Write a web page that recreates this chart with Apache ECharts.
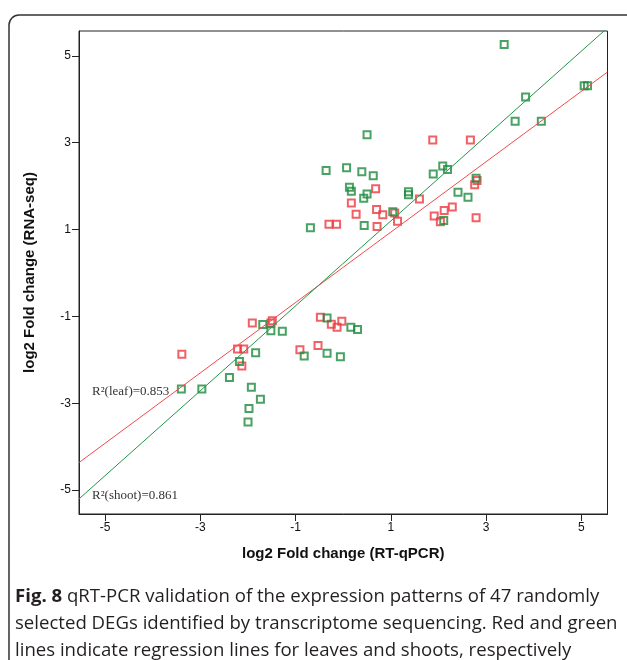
<!DOCTYPE html>
<html>
<head>
<meta charset="utf-8">
<title>Fig. 8 qRT-PCR validation</title>
<script src="https://cdn.jsdelivr.net/npm/echarts@6/dist/echarts.min.js"></script>
<style>
    html, body { margin: 0; padding: 0; background: #fff; }
    #main { width: 627px; height: 660px; }
</style>
</head>
<body>
<div id="main"></div>
<script>
// log2 fold change, RT-qPCR (x) vs RNA-seq (y)
var leafQpcr = [1.88, 2.67, 0.68, 0.17, 0.70, 0.83, 0.27, 1.08, 1.14, 0.71, -0.30, -0.14,
    1.60, 1.91, 2.12, 2.29, 2.04, 2.79, 2.76, 2.81,
    -1.91, -1.52, -1.49, -2.22, -2.09, -2.13, -3.39, -0.91, -0.53, -0.48, -0.25, -0.03, -0.13];
var leafRnaseq = [3.06, 3.06, 1.94, 1.61, 1.46, 1.34, 1.35, 1.38, 1.19, 1.07, 1.12, 1.12,
    1.70, 1.31, 1.44, 1.52, 1.18, 1.27, 2.03, 2.13,
    -1.15, -1.15, -1.10, -1.75, -1.75, -2.14, -1.87, -1.77, -1.67, -1.02, -1.18, -1.11, -1.25];

var shootQpcr = [3.38, 5.06, 5.13, 3.83, 3.61, 4.16, 0.50, -0.36, 0.07, 0.39, 0.63, 1.89,
    2.09, 2.19, 0.13, 0.17, 0.50, 0.43, 1.37, 1.37, 2.41, 2.62, 1.04, 2.11, 0.44, -0.69, 2.79,
    -1.69, -1.52, -1.28, -1.84, -2.18, -2.39, -1.93, -1.74, -1.98, -2.00, -3.40, -2.97,
    -0.82, -0.34, -0.06, -0.34, 0.16, 0.30];
var shootRnaseq = [5.26, 4.31, 4.31, 4.05, 3.49, 3.49, 3.18, 2.36, 2.42, 2.33, 2.24, 2.28,
    2.46, 2.38, 1.97, 1.88, 1.82, 1.72, 1.87, 1.80, 1.86, 1.74, 1.41, 1.21, 1.09, 1.04, 2.18,
    -1.19, -1.33, -1.34, -1.84, -2.04, -2.41, -2.63, -2.91, -3.12, -3.43, -2.67, -2.67,
    -1.91, -1.85, -1.93, -1.04, -1.25, -1.30];

// regression lines (slope, intercept) and R2
var leafFit = [0.81, 0.13];
var shootFit = [0.977, 0.22];
var r2Leaf = '0.853';
var r2Shoot = '0.861';

var tickValues = [-5, -3, -1, 1, 3, 5];
var xRange = [-5.55, 5.55];
var yRange = [-5.55, 5.57];

var red = '#ec3a40';
var green = '#1b8b3d';

function pairs(xs, ys) {
    var out = [];
    for (var i = 0; i < xs.length; i++) {
        out.push([xs[i], ys[i]]);
    }
    return out;
}

function fitLine(fit) {
    return [
        [xRange[0], fit[0] * xRange[0] + fit[1]],
        [xRange[1], fit[0] * xRange[1] + fit[1]]
    ];
}

// 两个坐标轴共用的样式
function makeAxis(range, name, gap) {
    return {
        type: 'value',
        min: range[0],
        max: range[1],
        name: name,
        nameLocation: 'middle',
        nameGap: gap,
        nameTextStyle: {
            fontFamily: 'Arial',
            fontWeight: 'bold',
            fontSize: 15,
            color: '#111'
        },
        axisLine: { show: true, onZero: false, lineStyle: { color: '#222', width: 1 } },
        axisTick: {
            show: true,
            length: 7,
            customValues: tickValues,
            lineStyle: { color: '#222', width: 1 }
        },
        axisLabel: {
            customValues: tickValues,
            color: '#111',
            fontFamily: 'Arial',
            fontSize: 12
        },
        splitLine: { show: false }
    };
}

var chart = echarts.init(document.getElementById('main'), null, { renderer: 'canvas' });

var option = {
    animation: false,
    backgroundColor: '#fff',
    grid: {
        left: 79,
        right: 19.5,
        top: 31,
        bottom: 146,
        show: true,
        borderColor: '#222',
        borderWidth: 1
    },
    xAxis: makeAxis(xRange, 'log2 Fold change (RT-qPCR)', 32),
    yAxis: makeAxis(yRange, 'log2 Fold change (RNA-seq)', 42),
    series: [
        {
            name: 'leaf fit',
            type: 'line',
            data: fitLine(leafFit),
            symbol: 'none',
            silent: true,
            lineStyle: { color: '#f24a4a', width: 1 }
        },
        {
            name: 'shoot fit',
            type: 'line',
            data: fitLine(shootFit),
            symbol: 'none',
            silent: true,
            lineStyle: { color: '#23964a', width: 1 }
        },
        {
            name: 'leaf',
            type: 'scatter',
            data: pairs(leafQpcr, leafRnaseq),
            symbol: 'rect',
            symbolSize: 7,
            itemStyle: { color: 'rgba(255,255,255,0)', borderColor: red, borderWidth: 2 }
        },
        {
            name: 'shoot',
            type: 'scatter',
            data: pairs(shootQpcr, shootRnaseq),
            symbol: 'rect',
            symbolSize: 7,
            itemStyle: { color: 'rgba(255,255,255,0)', borderColor: green, borderWidth: 2 }
        }
    ],
    graphic: [
        {
            // outer figure frame
            type: 'rect',
            shape: { x: 9, y: 15, width: 700, height: 700, r: 10 },
            style: { fill: 'none', stroke: '#333', lineWidth: 1.5 },
            silent: true
        },
        {
            type: 'text',
            left: 92,
            top: 385,
            style: {
                text: 'R\u00b2(leaf)=' + r2Leaf,
                font: '13px "Liberation Serif"',
                fill: '#333'
            }
        },
        {
            type: 'text',
            left: 92,
            top: 489,
            style: {
                text: 'R\u00b2(shoot)=' + r2Shoot,
                font: '13px "Liberation Serif"',
                fill: '#333'
            }
        },
        {
            type: 'text',
            left: 15,
            top: 583,
            style: {
                text: '{b|Fig. 8} qRT-PCR validation of the expression patterns of 47 randomly\n' +
                    'selected DEGs identified by transcriptome sequencing. Red and green\n' +
                    'lines indicate regression lines for leaves and shoots, respectively',
                font: '18.6px "Open Sans"',
                fill: '#231f20',
                lineHeight: 27,
                rich: {
                    b: { font: 'bold 18.6px "Open Sans"', fill: '#231f20', lineHeight: 27 }
                }
            }
        }
    ]
};

chart.setOption(option);
</script>
</body>
</html>
